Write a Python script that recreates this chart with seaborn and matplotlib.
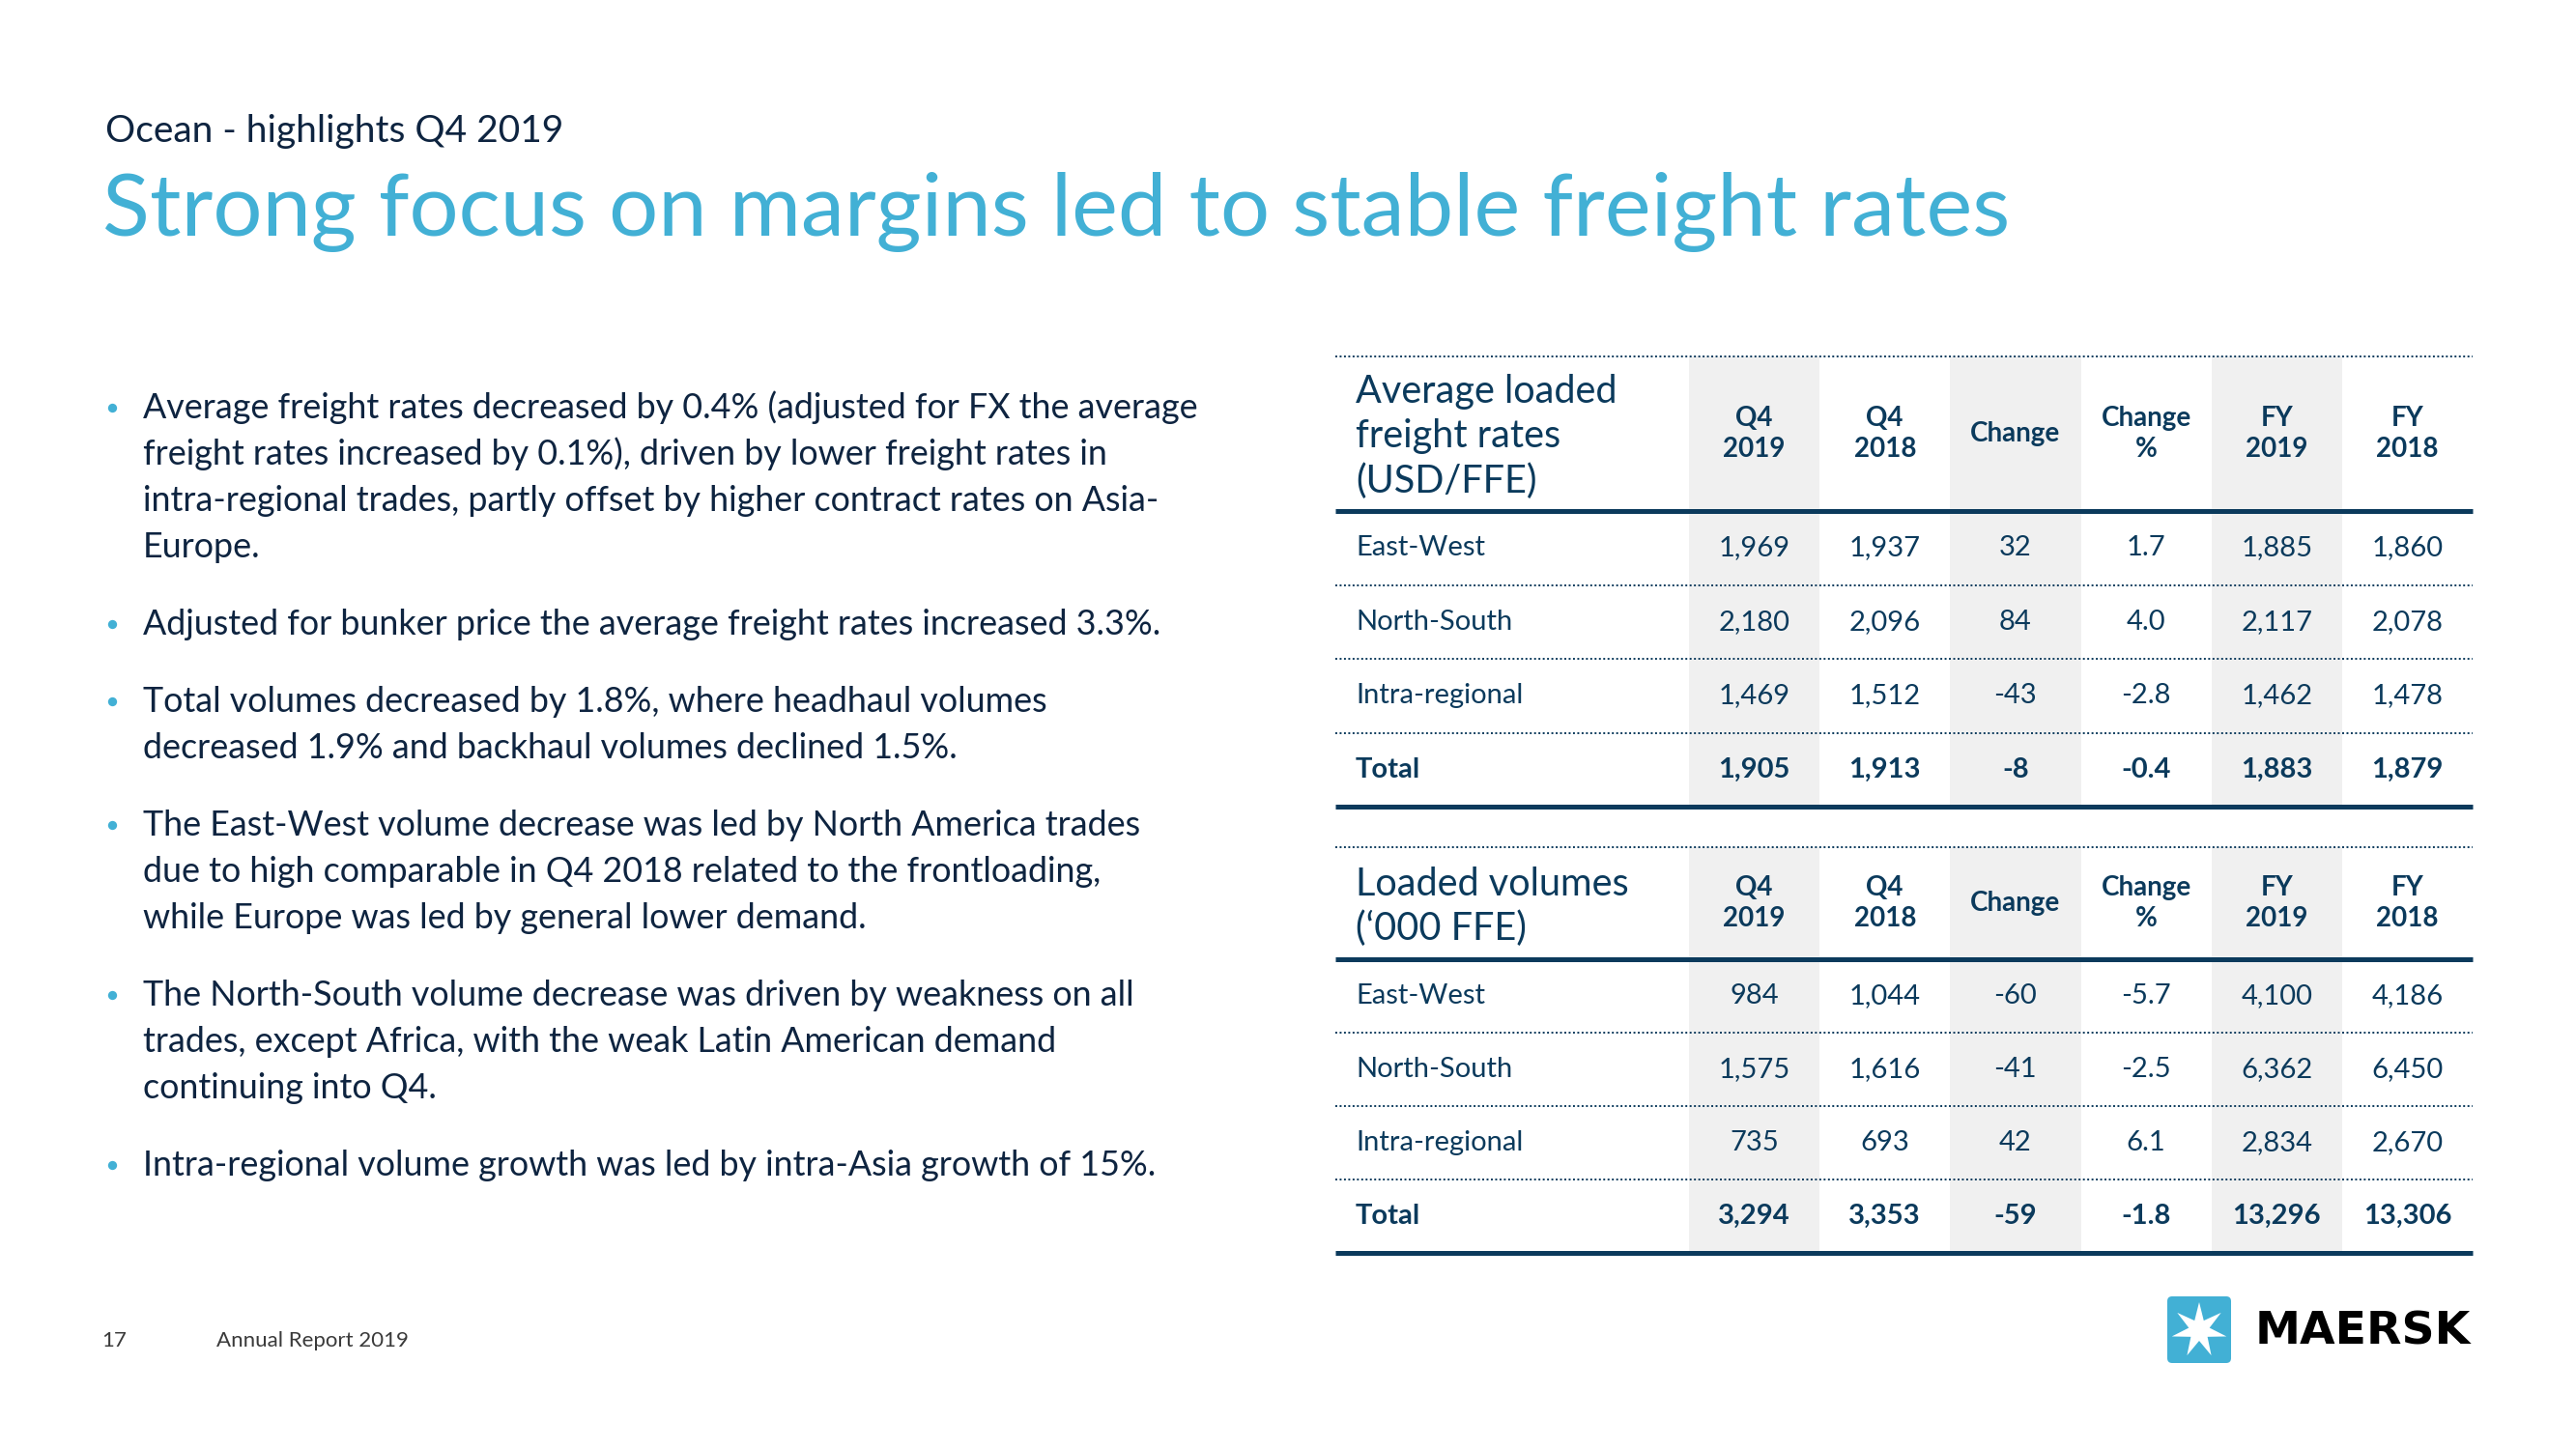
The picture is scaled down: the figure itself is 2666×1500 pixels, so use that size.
import numpy as np
import pandas as pd
import seaborn as sns
import matplotlib.pyplot as plt
from matplotlib.colors import ListedColormap
from matplotlib.patches import FancyBboxPatch, Polygon

# ---- data ----
col_labels = ["Q4\n2019", "Q4\n2018", "Change", "Change\n%", "FY\n2019", "FY\n2018"]
trades = ["East-West", "North-South", "Intra-regional", "Total"]

rate_q4_2019 = [1969, 2180, 1469, 1905]
rate_q4_2018 = [1937, 2096, 1512, 1913]
rate_change = [32, 84, -43, -8]
rate_change_pct = [1.7, 4.0, -2.8, -0.4]
rate_fy_2019 = [1885, 2117, 1462, 1883]
rate_fy_2018 = [1860, 2078, 1478, 1879]

vol_q4_2019 = [984, 1575, 735, 3294]
vol_q4_2018 = [1044, 1616, 693, 3353]
vol_change = [-60, -41, 42, -59]
vol_change_pct = [-5.7, -2.5, 6.1, -1.8]
vol_fy_2019 = [4100, 6362, 2834, 13296]
vol_fy_2018 = [4186, 6450, 2670, 13306]

bullets = [
    ["Average freight rates decreased by 0.4% (adjusted for FX the average",
     "freight rates increased by 0.1%), driven by lower freight rates in",
     "intra-regional trades, partly offset by higher contract rates on Asia-",
     "Europe."],
    ["Adjusted for bunker price the average freight rates increased 3.3%."],
    ["Total volumes decreased by 1.8%, where headhaul volumes",
     "decreased 1.9% and backhaul volumes declined 1.5%."],
    ["The East-West volume decrease was led by North America trades",
     "due to high comparable in Q4 2018 related to the frontloading,",
     "while Europe was led by general lower demand."],
    ["The North-South volume decrease was driven by weakness on all",
     "trades, except Africa, with the weak Latin American demand",
     "continuing into Q4."],
    ["Intra-regional volume growth was led by intra-Asia growth of 15%."],
]

rates = pd.DataFrame({"q4_19": rate_q4_2019, "q4_18": rate_q4_2018, "chg": rate_change,
                      "pct": rate_change_pct, "fy_19": rate_fy_2019, "fy_18": rate_fy_2018},
                     index=trades)
volumes = pd.DataFrame({"q4_19": vol_q4_2019, "q4_18": vol_q4_2018, "chg": vol_change,
                        "pct": vol_change_pct, "fy_19": vol_fy_2019, "fy_18": vol_fy_2018},
                       index=trades)

# ---- style ----
sns.set_theme(style="white")
plt.rcParams['font.family'] = ['Lato', 'DejaVu Sans']

BLUE = "#42B0D5"
NAVY = "#0B3A5C"
TEXT = "#0E2440"
GREY = "#F0F0F0"

W, H = 2666, 1500
fig = plt.figure(figsize=(W / 100, H / 100), dpi=100)


def rect(x0, y0, x1, y1):
    return [x0 / W, 1 - y1 / H, (x1 - x0) / W, (y1 - y0) / H]


bg = fig.add_axes([0, 0, 1, 1])
bg.set_xlim(0, W)
bg.set_ylim(H, 0)
bg.axis("off")

# titles
bg.text(109, 147, "Ocean - highlights Q4 2019", fontsize=28, color=TEXT, va="baseline")
bg.text(106, 244, "Strong focus on margins led to stable freight rates", fontsize=65,
        color=BLUE, va="baseline")

# bullets
y = 433
for lines in bullets:
    bg.scatter([116], [y - 11], s=45, color=BLUE, linewidths=0)
    for line in lines:
        bg.text(148, y, line, fontsize=25.8, color=TEXT, va="baseline")
        y += 48
    y += 32

# footer
bg.text(105, 1394, "17", fontsize=16, color="#3A3A3A", va="baseline")
bg.text(224, 1394, "Annual Report 2019", fontsize=16, color="#3A3A3A", va="baseline")

# logo
bg.add_patch(FancyBboxPatch((2243, 1342), 66, 69, boxstyle="round,pad=0,rounding_size=5",
                            fc=BLUE, ec="none"))
cx, cy, r_out, r_in = 2276, 1377, 29, 11
ang = np.pi / 2 + np.arange(14) * np.pi / 7
rad = np.where(np.arange(14) % 2 == 0, r_out, r_in)
bg.add_patch(Polygon(np.c_[cx + rad * np.cos(ang), cy - rad * np.sin(ang)], fc="white", ec="none"))
bg.text(2334, 1392, "MAERSK", fontsize=34, fontweight="bold", color="black",
        family="DejaVu Sans", va="baseline")

shade_cmap = ListedColormap(["#FFFFFF", GREY])
shade_row = np.array([[1, 0, 1, 0, 1, 0]])
X0, X1, XL = 1748, 2559, 1382
x_left = (XL - X0) / ((X1 - X0) / 6)


def cell_text(df):
    cols = []
    for c in df.columns:
        if c == "pct":
            cols.append([f"{v:.1f}" for v in df[c]])
        else:
            cols.append([f"{int(v):,}" for v in df[c]])
    return np.array(cols).T


def draw_table(df, title_lines, title_base, title_step, top, head_bot, bottom):
    # header cells
    hx = fig.add_axes(rect(X0, top, X1, head_bot))
    sns.heatmap(shade_row, ax=hx, cmap=shade_cmap, vmin=0, vmax=1, cbar=False,
                annot=np.array([col_labels]), fmt="",
                annot_kws=dict(color=NAVY, fontsize=20, fontweight="bold", linespacing=1.3),
                xticklabels=False, yticklabels=False)
    hx.hlines([0], x_left, 6, colors=NAVY, lw=1.4, linestyles=(0, (1, 1.3)), clip_on=False)

    # body cells
    bx = fig.add_axes(rect(X0, head_bot, X1, bottom))
    sns.heatmap(np.repeat(shade_row, len(df), axis=0), ax=bx, cmap=shade_cmap, vmin=0, vmax=1,
                cbar=False, annot=cell_text(df), fmt="", annot_kws=dict(color=NAVY, fontsize=21),
                xticklabels=False, yticklabels=list(df.index))
    bx.set_yticklabels(list(df.index), rotation=0, ha="left", fontsize=21, color=NAVY)
    bx.tick_params(axis="y", length=0, pad=(X0 - 1403) * 0.72)
    bx.get_yticklabels()[-1].set_fontweight("bold")
    for t in bx.texts[-6:]:
        t.set_fontweight("bold")
    bx.hlines([1, 2, 3], x_left, 6, colors=NAVY, lw=1.4, linestyles=(0, (1, 1.3)), clip_on=False)
    bx.hlines([0, len(df)], x_left, 6, colors=NAVY, lw=3.6, clip_on=False)

    for k, line in enumerate(title_lines):
        bg.text(1403, title_base + k * title_step, line, fontsize=28.5, color=NAVY, va="baseline")


draw_table(rates, ["Average loaded", "freight rates", "(USD/FFE)"], 417, 46.5, 369, 529, 835)
draw_table(volumes, ["Loaded volumes", "(\u2018000 FFE)"], 927, 46, 877, 993, 1297)

fig.savefig("out.png", dpi=100)
